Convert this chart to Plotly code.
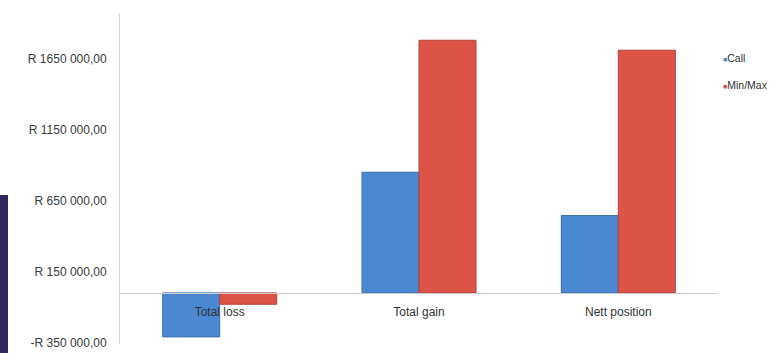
import plotly.graph_objects as go

categories = ["Total loss", "Total gain", "Nett position"]
call_values = [-310000, 850000, 545000]
minmax_values = [-80000, 1780000, 1710000]
series_names = ["Call", "Min/Max"]
tick_values = [-350000, 150000, 650000, 1150000, 1650000]


def rand_label(v):
    sign = "-" if v < 0 else ""
    v = abs(v)
    s = f"{v:,}".replace(",", " ")
    if v >= 1000000:
        s = s.replace(" ", "", 1)
    return f"{sign}R {s},00"


tick_text = [rand_label(v) for v in tick_values]

W, H = 771, 353
ML, MR, MT, MB = 120, 53, 13, 9
PW, PH = W - ML - MR, H - MT - MB
Y_MIN, Y_MAX = -360000, 1972000

BLUE = "#4a89d2"
BLUE_EDGE = "#3a6fae"
RED = "#dd5447"
RED_EDGE = "#b0433a"
FONT = "Liberation Sans, Arial, sans-serif"

fig = go.Figure()
fig.add_trace(go.Bar(x=categories, y=call_values, name=series_names[0],
                     marker=dict(color=BLUE, line=dict(color=BLUE_EDGE, width=1))))
fig.add_trace(go.Bar(x=categories, y=minmax_values, name=series_names[1],
                     marker=dict(color=RED, line=dict(color=RED_EDGE, width=1))))

zero_pos = (0 - Y_MIN) / (Y_MAX - Y_MIN)

# legend drawn as text entries (small coloured squares + series names)
legend_annots = []
for i, (nm, col) in enumerate(zip(series_names, [BLUE, RED])):
    legend_annots.append(dict(
        xref="paper", yref="paper",
        x=(721 - ML) / PW, y=(H - MB - (58 + 27 * i)) / PH,
        xanchor="left", yanchor="middle", showarrow=False,
        text=f"<span style='color:{col};font-size:7px'>■</span>{nm}",
        font=dict(size=10.5, color="#333333", family=FONT)))

fig.update_layout(
    width=W, height=H,
    margin=dict(l=ML, r=MR, t=MT, b=MB, autoexpand=False),
    paper_bgcolor="white", plot_bgcolor="white",
    barmode="group", bargap=0.428, bargroupgap=0,
    font=dict(family=FONT, size=11, color="#3a3a3a"),
    showlegend=False,
    annotations=legend_annots,
    xaxis=dict(anchor="free", position=zero_pos, showline=True,
               linecolor="#cccccc", linewidth=1, ticks="", showgrid=False,
               tickfont=dict(size=12, color="#333333"), ticklabelstandoff=8),
    yaxis=dict(range=[Y_MIN, Y_MAX], tickvals=tick_values, ticktext=tick_text,
               showgrid=False, zeroline=False, showline=True,
               linecolor="#d6d6d6", linewidth=1, ticks="",
               tickfont=dict(size=12, color="#3a3a3a"), ticklabelstandoff=10),
    shapes=[dict(type="rect", xref="paper", yref="paper",
                 x0=-ML / PW, x1=(8 - ML) / PW,
                 y0=-MB / PH, y1=(H - MB - 195) / PH,
                 fillcolor="#33275f", line=dict(width=0), layer="below")],
)

fig.write_html("out.html")
